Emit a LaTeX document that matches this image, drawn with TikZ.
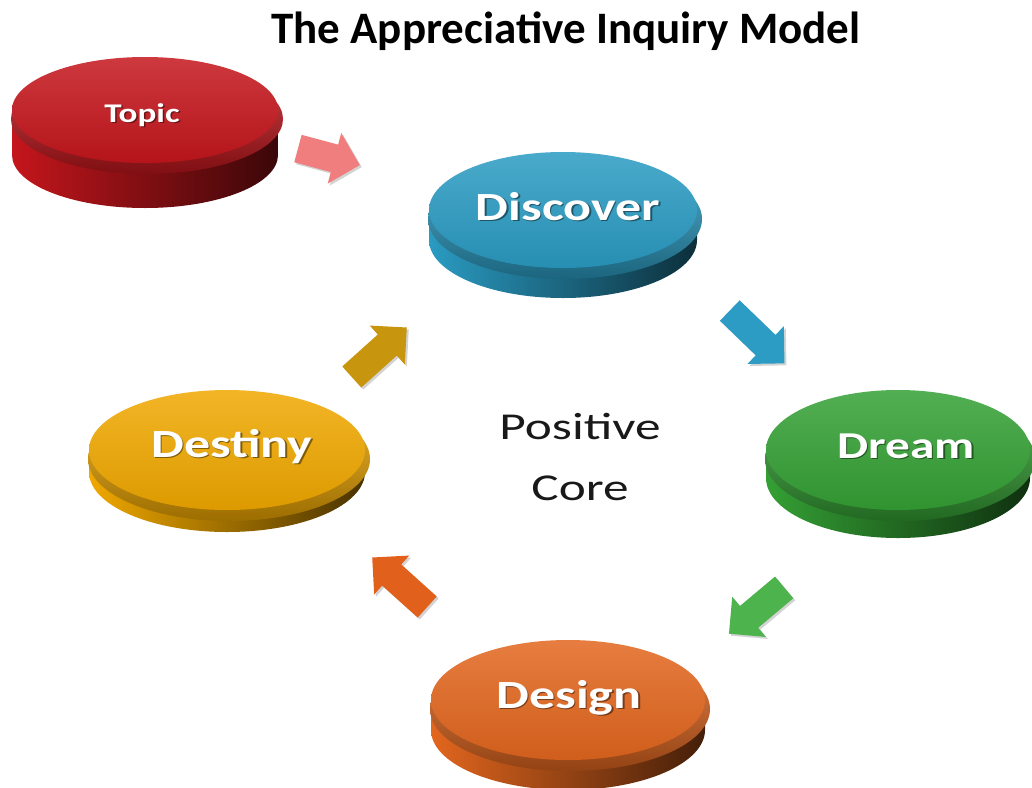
\documentclass[tikz,border=0pt]{standalone}
\usepackage{fontspec}
\setmainfont{Carlito}
\usetikzlibrary{shapes.arrows,shadows}

\definecolor{topicred}{HTML}{C4161C}
\definecolor{discblue}{HTML}{2A9BC2}
\definecolor{dreamgreen}{HTML}{34A034}
\definecolor{designorange}{HTML}{E2661E}
\definecolor{destinygold}{HTML}{F0A800}
\definecolor{topicpink}{HTML}{F07E7E}
\definecolor{arrowblue}{HTML}{2C9CC4}
\definecolor{arrowgreen}{HTML}{4DB34D}
\definecolor{arroworange}{HTML}{E0601C}
\definecolor{arrowgold}{HTML}{C8950F}

\tikzset{
  disclabel/.style={text=white, anchor=base, inner sep=0pt},
  labelshadow/.style={text=black, opacity=.45, anchor=base, inner sep=0pt},
  blockarrow/.style={single arrow, text height=14pt, text depth=14pt, text width=0pt,
    single arrow head extend=12pt, inner sep=0pt,
    drop shadow={shadow xshift=2pt, shadow yshift=-2pt, opacity=.35}},
}

\begin{document}
\begin{tikzpicture}[x=1pt,y=1pt]
  \useasboundingbox (0,0) rectangle (1032,-787);
  \clip (0,0) rectangle (1032,-787);

  % Titel
  \node[anchor=base, font=\fontsize{45}{54}\selectfont\bfseries] (title) at (566,-43) {The Appreciative Inquiry Model};

  % Scheiben
  \foreach \nm/\cx/\cy/\rx/\ry/\d/\col/\lx/\ly/\fs/\txt in {
      topic/145/-110/133/53/45/topicred/142/-122/27/Topic,
      discover/563/-210/134/58/30/discblue/568/-220/40/Discover,
      dream/898/-450/132/60/28/dreamgreen/906/-458/38/Dream,
      design/568/-700/137/60/30/designorange/569/-708/40/Design,
      destiny/227/-450/138/60/22/destinygold/232/-457/40/Destiny} {
    \shade[left color=\col, middle color=\col!60!black, right color=\col!30!black]
      (\cx-\rx,\cy-8) -- ++(0,-\d+8) arc[start angle=180, end angle=360, x radius=\rx, y radius=\ry] -- ++(0,\d-8) -- cycle;
    \shade[top color=\col!80!white, bottom color=\col!65!black]
      (\cx+2,\cy-9) ellipse[x radius=\rx+3, y radius=\ry+2];
    \shade[top color=\col!85!white, bottom color=\col!92!black]
      (\cx,\cy) ellipse[x radius=\rx, y radius=\ry];
    \node[labelshadow, font=\fontsize{\fs}{\fs}\selectfont\bfseries, xscale=1.3] (\nm-sh) at (\lx+1.5,\ly-1.5) {\txt};
    \node[disclabel, font=\fontsize{\fs}{\fs}\selectfont\bfseries, xscale=1.3] (\nm) at (\lx,\ly) {\txt};
  }

  % Pfeile
  \foreach \nm/\x/\y/\ang/\col/\len in {
      a1/322/-155/-15/topicpink/64,
      a2/752/-332/-44/arrowblue/76,
      a3/762/-606/-140/arrowgreen/72,
      a4/405/-587/138/arroworange/74,
      a5/374/-357/42/arrowgold/74} {
    \node[blockarrow, fill=\col, rotate=\ang, minimum height=\len] (\nm) at (\x,\y) {};
  }

  % Mitte
  \node[anchor=base, text=black!90, font=\fontsize{38}{40}\selectfont, xscale=1.35] (pos) at (580,-439) {Positive};
  \node[anchor=base, text=black!90, font=\fontsize{38}{40}\selectfont, xscale=1.35] (core) at (580,-500) {Core};
\end{tikzpicture}
\end{document}
